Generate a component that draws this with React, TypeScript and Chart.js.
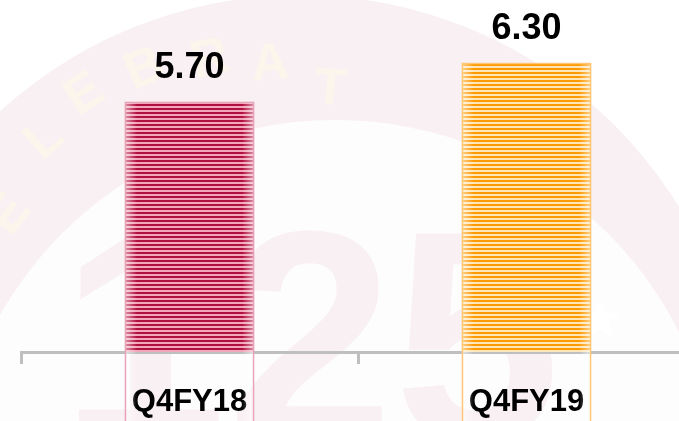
import React, { useEffect, useRef } from "react";
import { Chart, registerables } from "chart.js";

Chart.register(...registerables);

const categories = ["Q4FY18", "Q4FY19"];
const values = [5.7, 6.3];
const valueLabels = ["5.70", "6.30"];
const darkColors = ["#B0103F", "#FF9900"];
const lightColors = ["#F2A6BC", "#FFE6B8"];
const borderColors = ["#E9A3B8", "#FFC673"];

function makePattern(dark: string, light: string): CanvasPattern | string {
  const c = document.createElement("canvas");
  c.width = 4;
  c.height = 4;
  const g = c.getContext("2d");
  if (!g) return dark;
  g.fillStyle = dark;
  g.fillRect(0, 0, 4, 2);
  g.fillStyle = light;
  g.fillRect(0, 2, 4, 2);
  const p = g.createPattern(c, "repeat");
  return p || dark;
}

const watermark = {
  id: "watermark",
  beforeDraw(chart: any) {
    const ctx = chart.ctx as CanvasRenderingContext2D;
    ctx.save();
    ctx.fillStyle = "#FFFFFF";
    ctx.fillRect(0, 0, chart.width, chart.height);
    // outer ring
    ctx.fillStyle = "#F9F0F3";
    ctx.beginPath();
    ctx.arc(300, 440, 445, 0, Math.PI * 2);
    ctx.fill();
    // inner white disk
    ctx.fillStyle = "#FEFDFD";
    ctx.beginPath();
    ctx.arc(335, 505, 385, 0, Math.PI * 2);
    ctx.fill();
    // big numerals
    ctx.fillStyle = "#F9F0F3";
    ctx.font = "bold 300px 'Liberation Sans'";
    ctx.textAlign = "left";
    ctx.textBaseline = "alphabetic";
    ctx.fillText("125", 60, 440);
    // star
    ctx.fillStyle = "#FFFFFF";
    const cx = 600, cy = 320, ro = 22, ri = 9;
    ctx.beginPath();
    for (let i = 0; i < 10; i++) {
      const r = i % 2 === 0 ? ro : ri;
      const a = -Math.PI / 2 + (i * Math.PI) / 5;
      const px = cx + r * Math.cos(a);
      const py = cy + r * Math.sin(a);
      if (i === 0) ctx.moveTo(px, py);
      else ctx.lineTo(px, py);
    }
    ctx.closePath();
    ctx.fill();
    // faint letters
    ctx.fillStyle = "rgba(255,250,228,0.55)";
    ctx.font = "bold 52px 'Liberation Sans'";
    ctx.textAlign = "center";
    ctx.textBaseline = "middle";
    const letters = ["E", "L", "E", "B", "R", "A", "T"];
    const pos = [[10, 215], [45, 140], [85, 95], [145, 70], [210, 60], [270, 65], [330, 90]];
    letters.forEach((l, i) => {
      const [lx, ly] = pos[i];
      const ang = Math.atan2(ly - 430, lx - 300) + Math.PI / 2;
      ctx.save();
      ctx.translate(lx, ly);
      ctx.rotate(ang);
      ctx.fillText(l, 0, 0);
      ctx.restore();
    });
    ctx.restore();
  },
};

const barDecor = {
  id: "barDecor",
  afterDatasetsDraw(chart: any) {
    const ctx = chart.ctx as CanvasRenderingContext2D;
    const meta = chart.getDatasetMeta(0);
    meta.data.forEach((bar: any, i: number) => {
      const p = bar.getProps(["x", "y", "base", "width"], true);
      const left = p.x - p.width / 2;
      const right = p.x + p.width / 2;
      const top = p.y;
      const h = p.base - p.y;
      ctx.save();
      const g1 = ctx.createLinearGradient(left, 0, left + 12, 0);
      g1.addColorStop(0, "rgba(255,255,255,0.55)");
      g1.addColorStop(1, "rgba(255,255,255,0)");
      ctx.fillStyle = g1;
      ctx.fillRect(left, top, 12, h);
      const g2 = ctx.createLinearGradient(right - 12, 0, right, 0);
      g2.addColorStop(0, "rgba(255,255,255,0)");
      g2.addColorStop(1, "rgba(255,255,255,0.55)");
      ctx.fillStyle = g2;
      ctx.fillRect(right - 12, top, 12, h);
      ctx.strokeStyle = borderColors[i];
      ctx.lineWidth = 1.5;
      ctx.strokeRect(left + 0.5, top + 0.5, p.width - 1, h - 1);
      ctx.fillStyle = "#000000";
      ctx.font = "bold 36px 'Liberation Sans'";
      ctx.textAlign = "center";
      ctx.textBaseline = "alphabetic";
      ctx.fillText(valueLabels[i], p.x, top - 24);
      ctx.restore();
    });
  },
};

export default function App() {
  const ref = useRef<HTMLCanvasElement | null>(null);
  useEffect(() => {
    if (!ref.current) return;
    const patterns = values.map((_, i) => makePattern(darkColors[i], lightColors[i]));
    const chart = new Chart(ref.current, {
      type: "bar",
      data: {
        labels: categories,
        datasets: [
          {
            data: values,
            backgroundColor: patterns as any,
            borderWidth: 0,
            categoryPercentage: 1,
            barPercentage: 0.383,
          },
        ],
      },
      options: {
        animation: false,
        responsive: false,
        devicePixelRatio: 1,
        layout: { padding: { left: 21, right: 5, top: 0, bottom: 0 } },
        plugins: { legend: { display: false }, tooltip: { enabled: false } },
        scales: {
          y: { display: false, min: 1.85, max: 7.27 },
          x: {
            border: { display: true, color: "#BFBFBF", width: 3 },
            grid: {
              drawOnChartArea: false,
              drawTicks: true,
              tickLength: 12,
              color: "#BFBFBF",
              lineWidth: 3,
            },
            ticks: {
              color: "#000000",
              padding: 20,
              font: { family: "'Liberation Sans'", size: 31, weight: "bold" },
            },
            afterFit: (scale: any) => {
              scale.height = 69;
            },
          },
        },
      },
      plugins: [watermark, barDecor],
    });
    return () => chart.destroy();
  }, []);
  return (
    <div style={{ position: "fixed", left: 0, top: 0, width: 679, height: 421, overflow: "hidden" }}>
      <canvas ref={ref} width={700} height={421} style={{ display: "block" }} />
    </div>
  );
}
